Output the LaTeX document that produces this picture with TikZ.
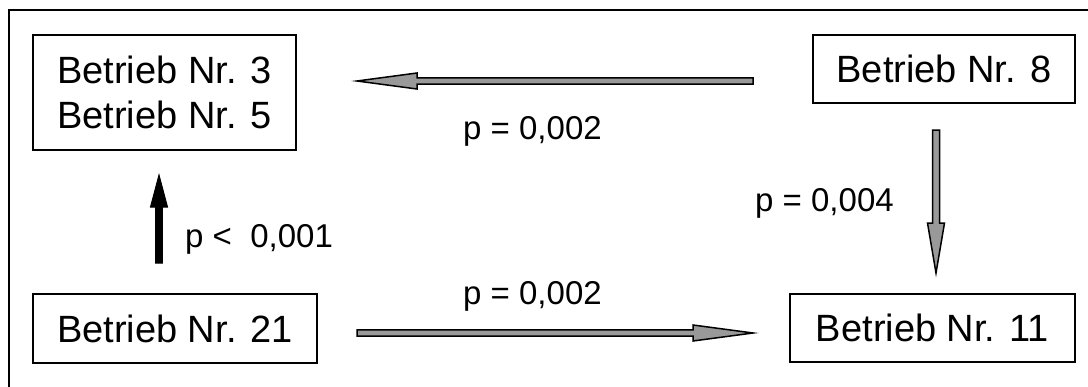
\documentclass[tikz,border=0pt]{standalone}
\usepackage{fontspec}
\setmainfont{Liberation Sans}
\usetikzlibrary{calc}
\tikzset{
  firm/.style={draw=black, line width=1.6pt, fill=white, inner sep=0pt, align=center,
    font=\fontsize{38}{45.6}\selectfont},
  plabel/.style={inner sep=0pt, font=\fontsize{33}{39}\selectfont},
  grayarrow/.style={draw=black, line width=1.5pt, fill=black!40, line join=miter},
  blackarrow/.style={draw=black, line width=1pt, fill=black, line join=miter},
}
\newcommand\fatarrow[6]{%
  \coordinate (#2-#3-b) at ($(#3)!#4!(#2)$);
  \draw[#1] ($(#2)!#5!90:(#3)$) -- ($(#2-#3-b)!#5!90:(#3)$) -- ($(#2-#3-b)!#6!90:(#3)$)
    -- (#3) -- ($(#2-#3-b)!#6!-90:(#3)$) -- ($(#2-#3-b)!#5!-90:(#3)$)
    -- ($(#2)!#5!-90:(#3)$) -- cycle;}
\begin{document}
\begin{tikzpicture}[x=1pt,y=-1pt]
\useasboundingbox (0,0) rectangle (1088,386);
\clip (0,0) rectangle (1088,386);
\fill[white] (0,0) rectangle (1088,386);
\draw[line width=1.5pt] (9,10) rectangle (1110,410);

\node[firm, minimum width=263pt, minimum height=115pt] (n35) at (164.5,92.5) {Betrieb Nr. 3\\Betrieb Nr. 5};
\node[firm, minimum width=262pt, minimum height=68pt] (n8) at (944,69) {Betrieb Nr. 8};
\node[firm, minimum width=284pt, minimum height=69pt] (n21) at (175,328.5) {Betrieb Nr. 21};
\node[firm, minimum width=285pt, minimum height=68pt] (n11) at (932.5,328) {Betrieb Nr. 11};

\coordinate (a1s) at (753,81);   \coordinate (a1e) at (357,81);
\coordinate (a2s) at (357,333);  \coordinate (a2e) at (753,333);
\coordinate (a3s) at (936,130);  \coordinate (a3e) at (936,273);
\coordinate (a4s) at (159,263);  \coordinate (a4e) at (159,175);

\fatarrow{grayarrow}{a1s}{a1e}{60pt}{3.2pt}{8pt}
\fatarrow{grayarrow}{a2s}{a2e}{60pt}{3.2pt}{8pt}
\fatarrow{grayarrow}{a3s}{a3e}{50pt}{3.5pt}{8.5pt}
\fatarrow{blackarrow}{a4s}{a4e}{32pt}{3.3pt}{8.5pt}

\node[plabel, anchor=base west] (l1) at (463,139) {p = 0,002};
\node[plabel, anchor=base west] (l2) at (463,304) {p = 0,002};
\node[plabel, anchor=base west] (l3) at (755,211) {p = 0,004};
\node[plabel, anchor=base west] (l4) at (185,247) {p <\ \ 0,001};
\end{tikzpicture}
\end{document}
